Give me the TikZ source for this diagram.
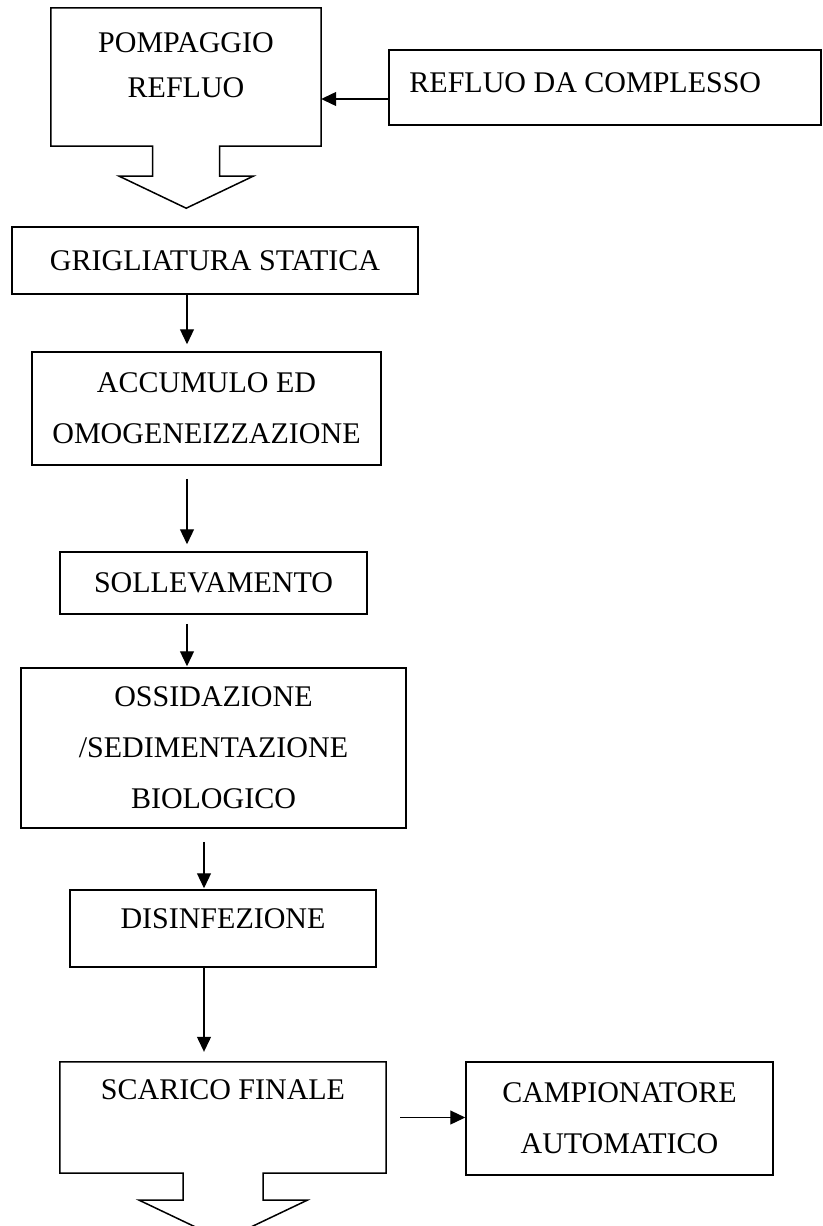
\documentclass[tikz,border=0pt]{standalone}
\usepackage{fontspec}
\setmainfont{Liberation Serif}
\usetikzlibrary{positioning,arrows.meta}

\begin{document}
\begin{tikzpicture}[x=1pt, y=-1pt
        , box/.style={ draw, line width=1.5pt, inner sep=0pt, align=center }
        , frame/.style={ inner sep=0pt }
        , txt/.style={ inner sep=0pt, align=center }
        , flow/.style={ line width=1.2pt, -{Triangle[length=15pt,width=14pt]} }
        , every node/.style={ font=\fontsize{30}{51}\selectfont }
        ]

        \useasboundingbox (0,0) rectangle (822,1226);

        \coordinate (colA) at (187,0);
        \coordinate (colB) at (204,0);

        % pumping station, with its block arrow
        \node[frame, minimum width=270pt, minimum height=138pt] (pump) at (186,77) {};
        \draw[line width=1.5pt] (pump.south west) -- (pump.north west) -- (pump.north east)
            -- (pump.south east) -- ++(-101.5,0) -- ++(0,30) -- ++(33.5,0)
            -- ++(-67,32) -- ++(-67,-32) -- ++(33.5,0) -- ++(0,-30) -- cycle;
        \node[txt, font=\fontsize{30}{45}\selectfont, below=25pt of pump.north] {POMPAGGIO\\REFLUO};

        \node[box, minimum width=432pt, minimum height=75pt] (refluo) at (605,87.5) {};
        \node[txt, below right=23pt and 21pt of refluo.north west] {REFLUO DA COMPLESSO};
        \coordinate (feed) at ([yshift=-11.5pt]refluo.west);
        \draw[flow] (feed) -- (feed -| pump.east);

        % treatment line
        \node[box, minimum width=406pt, minimum height=67pt] (grig) at (215,260.5) {GRIGLIATURA STATICA};
        \node[box, minimum width=349pt, minimum height=113pt] (accum) at (206.5,408.5) {ACCUMULO ED\\OMOGENEIZZAZIONE};
        \node[box, minimum width=307pt, minimum height=62pt] (sollev) at (213.5,583) {SOLLEVAMENTO};
        \node[box, minimum width=385pt, minimum height=160pt] (ossid) at (213.5,748) {OSSIDAZIONE\\/SEDIMENTAZIONE\\BIOLOGICO};
        \node[box, minimum width=306pt, minimum height=77pt] (disinf) at (223,928.5) {};
        \node[txt, below=19pt of disinf.north] {DISINFEZIONE};

        \draw[flow, shorten >=7pt] (grig.south -| colA) -- (accum.north -| colA);
        \draw[flow, shorten <=13pt, shorten >=7pt] (accum.south -| colA) -- (sollev.north -| colA);
        \draw[flow, shorten <=9pt, shorten >=1pt] (sollev.south -| colA) -- (ossid.north -| colA);
        \draw[flow, shorten <=13pt, shorten >=1pt] (ossid.south -| colB) -- (disinf.north -| colB);

        % final discharge
        \node[frame, minimum width=326pt, minimum height=111pt] (scarico) at (223,1117.5) {};
        \draw[line width=1.5pt] (scarico.south west) -- (scarico.north west) -- (scarico.north east)
            -- (scarico.south east) -- ++(-123,0) -- ++(0,27) -- ++(44,0)
            -- ++(-84,40) -- ++(-84,-40) -- ++(44,0) -- ++(0,-27) -- cycle;
        \node[txt, below=18pt of scarico.north] {SCARICO FINALE};
        \draw[flow, shorten >=10pt] (disinf.south -| colB) -- (scarico.north -| colB);

        \node[box, minimum width=307pt, minimum height=113pt] (campion) at (619.5,1118.5) {CAMPIONATORE\\AUTOMATICO};
        \draw[flow, shorten <=14pt] (scarico.east) -- (scarico.east -| campion.west);

    \end{tikzpicture}
\end{document}
